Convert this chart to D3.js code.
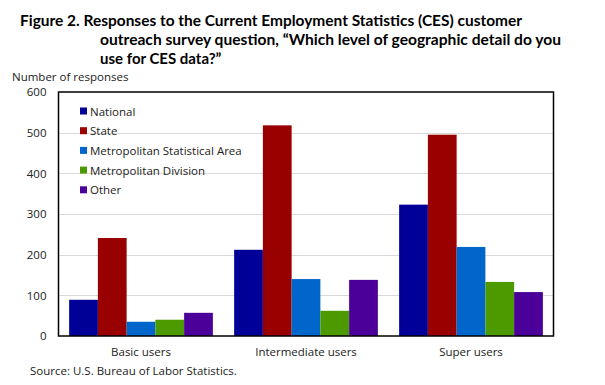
<!DOCTYPE html>
<html>
<head>
<meta charset="utf-8">
<script src="https://cdn.jsdelivr.net/npm/d3@7"></script>
<style>
  body { margin: 0; background: #fff; }
  svg { display: block; }
</style>
</head>
<body>
<div id="chart"></div>
<script>
// data
const groups = ['Basic users', 'Intermediate users', 'Super users'];
const seriesNames = ['National', 'State', 'Metropolitan Statistical Area', 'Metropolitan Division', 'Other'];
const colors = ['#000099', '#990000', '#0066cc', '#4d9900', '#4b0099'];
const national = [89, 212, 323];
const state = [241, 518, 495];
const msa = [35, 140, 219];
const metroDiv = [40, 62, 133];
const other = [57, 138, 108];
const yTicks = [0, 100, 200, 300, 400, 500, 600];
const titleLines = [
  'Figure 2. Responses to the Current Employment Statistics (CES) customer',
  'outreach survey question, \u201cWhich level of geographic detail do you',
  'use for CES data?\u201d'
];

const values = [national, state, msa, metroDiv, other];
const rows = groups.map((g, i) => ({
  group: g,
  vals: seriesNames.map((s, j) => ({ key: s, value: values[j][i], color: colors[j] }))
}));

const width = 605, height = 385;
const margin = { left: 58.5, right: 51.5, top: 92, bottom: 49 };
const font = "'Open Sans', sans-serif";

const svg = d3.select('#chart').append('svg')
  .attr('width', width)
  .attr('height', height)
  .attr('font-family', font);

// title
const title = svg.append('g').attr('font-family', "Lato, sans-serif")
  .attr('font-weight', 'bold').attr('font-size', 15).attr('fill', '#000');
title.append('text').attr('x', 20).attr('y', 26).text(titleLines[0])
  .attr('textLength', 502).attr('lengthAdjust', 'spacingAndGlyphs');
title.append('text').attr('x', 100).attr('y', 45).text(titleLines[1])
  .attr('textLength', 461).attr('lengthAdjust', 'spacingAndGlyphs');
title.append('text').attr('x', 100).attr('y', 64).text(titleLines[2]);

const x0 = d3.scaleBand()
  .domain(groups)
  .range([margin.left, width - margin.right]);

const x1 = d3.scaleBand()
  .domain(seriesNames)
  .range([0, x0.bandwidth()])
  .paddingOuter(0.37);

const y = d3.scaleLinear()
  .domain([0, 600])
  .range([height - margin.bottom, margin.top]);

// grid lines
svg.append('g')
  .attr('stroke', '#d9d9d9')
  .attr('stroke-width', 1)
  .selectAll('line')
  .data(yTicks.slice(1, -1))
  .join('line')
  .attr('x1', margin.left)
  .attr('x2', width - margin.right)
  .attr('y1', d => Math.round(y(d)) + 0.5)
  .attr('y2', d => Math.round(y(d)) + 0.5);

// bars
svg.append('g')
  .selectAll('g')
  .data(rows)
  .join('g')
  .attr('transform', d => `translate(${x0(d.group)},0)`)
  .selectAll('rect')
  .data(d => d.vals)
  .join('rect')
  .attr('x', d => x1(d.key))
  .attr('width', x1.bandwidth())
  .attr('y', d => y(d.value))
  .attr('height', d => y(0) - y(d.value))
  .attr('fill', d => d.color);

// frame
svg.append('rect')
  .attr('x', margin.left)
  .attr('y', margin.top)
  .attr('width', width - margin.left - margin.right)
  .attr('height', y(0) - margin.top)
  .attr('fill', 'none')
  .attr('stroke', '#000')
  .attr('stroke-width', 1.5);

// y axis labels
const yAxis = svg.append('g')
  .attr('transform', `translate(${margin.left},0)`)
  .call(d3.axisLeft(y).tickValues(yTicks).tickSize(0).tickPadding(12));
yAxis.select('.domain').remove();
yAxis.selectAll('text').attr('font-size', 11.5).attr('font-family', font).attr('fill', '#222');

svg.append('text')
  .attr('x', 12).attr('y', 81)
  .attr('font-size', 11.5)
  .attr('fill', '#222')
  .text('Number of responses');

// x axis labels
const xAxis = svg.append('g')
  .attr('transform', `translate(0,${y(0)})`)
  .call(d3.axisBottom(x0).tickSize(0).tickPadding(12));
xAxis.select('.domain').remove();
xAxis.selectAll('text').attr('font-size', 11.5).attr('font-family', font).attr('fill', '#222');

// legend
const legend = svg.append('g')
  .attr('transform', 'translate(80,111)')
  .selectAll('g')
  .data(seriesNames)
  .join('g')
  .attr('transform', (d, i) => `translate(0,${i * 19.7})`);
legend.append('rect')
  .attr('x', 0).attr('y', -3.5)
  .attr('width', 7).attr('height', 7)
  .attr('fill', (d, i) => colors[i]);
legend.append('text')
  .attr('x', 10).attr('y', 4.5)
  .attr('font-size', 11.5)
  .attr('fill', '#222')
  .text(d => d);

// source
svg.append('text')
  .attr('x', 30).attr('y', 375)
  .attr('font-size', 11.5)
  .attr('fill', '#222')
  .text('Source:  U.S. Bureau  of Labor Statistics.');
</script>
</body>
</html>
